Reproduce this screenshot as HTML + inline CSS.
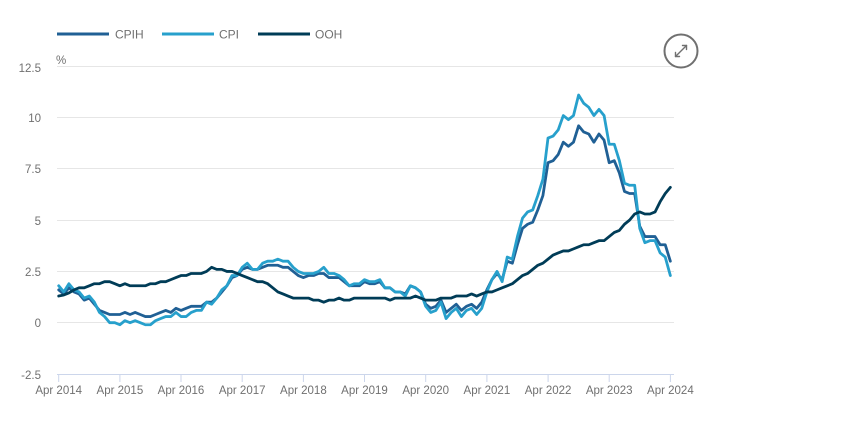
<!DOCTYPE html>
<html>
<head>
<meta charset="utf-8">
<style>
  html,body{margin:0;padding:0;background:#fff;}
  body{width:849px;height:441px;overflow:hidden;}
  svg{display:block;font-family:"Liberation Sans",sans-serif;}
  .lbl{fill:#707070;font-size:11.5px;}
</style>
</head>
<body>
<svg width="849" height="441" viewBox="0 0 849 441" xmlns="http://www.w3.org/2000/svg">
  <rect width="849" height="441" fill="#fff"/>

  <!-- legend -->
  <line x1="57" y1="34" x2="109" y2="34" stroke="#206095" stroke-width="3"/>
  <text x="115" y="38.5" class="lbl" style="font-size:12px">CPIH</text>
  <line x1="162" y1="34" x2="214" y2="34" stroke="#27a0cc" stroke-width="3"/>
  <text x="219" y="38.5" class="lbl" style="font-size:12px">CPI</text>
  <line x1="258" y1="34" x2="310" y2="34" stroke="#003c57" stroke-width="3"/>
  <text x="315" y="38.5" class="lbl" style="font-size:12px">OOH</text>

  <!-- gridlines -->
  <g stroke="#e6e6e6" stroke-width="1">
    <line x1="57" y1="66.5" x2="674" y2="66.5"/>
    <line x1="57" y1="117.5" x2="674" y2="117.5"/>
    <line x1="57" y1="168.5" x2="674" y2="168.5"/>
    <line x1="57" y1="220.5" x2="674" y2="220.5"/>
    <line x1="57" y1="271.5" x2="674" y2="271.5"/>
    <line x1="57" y1="322.5" x2="674" y2="322.5"/>
  </g>
  <line x1="57" y1="374.5" x2="674" y2="374.5" stroke="#ccd6eb" stroke-width="1"/>
  <g stroke="#ccd6eb" stroke-width="1">
    <line x1="58.7" y1="374" x2="58.7" y2="382"/>
    <line x1="119.9" y1="374" x2="119.9" y2="382"/>
    <line x1="181.0" y1="374" x2="181.0" y2="382"/>
    <line x1="242.2" y1="374" x2="242.2" y2="382"/>
    <line x1="303.4" y1="374" x2="303.4" y2="382"/>
    <line x1="364.5" y1="374" x2="364.5" y2="382"/>
    <line x1="425.7" y1="374" x2="425.7" y2="382"/>
    <line x1="486.9" y1="374" x2="486.9" y2="382"/>
    <line x1="548.1" y1="374" x2="548.1" y2="382"/>
    <line x1="609.2" y1="374" x2="609.2" y2="382"/>
    <line x1="670.4" y1="374" x2="670.4" y2="382"/>
  </g>

  <!-- y labels -->
  <text x="56" y="64" class="lbl">%</text>
  <g class="lbl" text-anchor="end">
    <text x="41" y="72">12.5</text>
    <text x="41" y="122">10</text>
    <text x="41" y="173">7.5</text>
    <text x="41" y="225">5</text>
    <text x="41" y="276">2.5</text>
    <text x="41" y="327">0</text>
    <text x="41" y="379">-2.5</text>
  </g>

  <!-- x labels -->
  <g class="lbl" text-anchor="middle">
    <text x="58.7" y="394">Apr 2014</text>
    <text x="119.9" y="394">Apr 2015</text>
    <text x="181.0" y="394">Apr 2016</text>
    <text x="242.2" y="394">Apr 2017</text>
    <text x="303.4" y="394">Apr 2018</text>
    <text x="364.5" y="394">Apr 2019</text>
    <text x="425.7" y="394">Apr 2020</text>
    <text x="486.9" y="394">Apr 2021</text>
    <text x="548.1" y="394">Apr 2022</text>
    <text x="609.2" y="394">Apr 2023</text>
    <text x="670.4" y="394">Apr 2024</text>
  </g>

  <!-- series -->
  <g transform="translate(58.7,322.7) scale(5.097,-20.51)" fill="none" stroke-linejoin="round" stroke-linecap="round">
    <!-- CPIH -->
    <polyline vector-effect="non-scaling-stroke" stroke="#206095" stroke-width="2.8" points="
0,1.6 1,1.4 2,1.7 3,1.5 4,1.4 5,1.1 6,1.2 7,0.9 8,0.6
9,0.5 10,0.4 11,0.4 12,0.4 13,0.5 14,0.4 15,0.5 16,0.4 17,0.3 18,0.3 19,0.4 20,0.5
21,0.6 22,0.5 23,0.7 24,0.6 25,0.7 26,0.8 27,0.8 28,0.8 29,1.0 30,1.0 31,1.2 32,1.5
33,1.8 34,2.2 35,2.3 36,2.6 37,2.7 38,2.6 39,2.6 40,2.7 41,2.8 42,2.8 43,2.8 44,2.7
45,2.7 46,2.5 47,2.3 48,2.2 49,2.3 50,2.3 51,2.4 52,2.4 53,2.2 54,2.2 55,2.2 56,2.0
57,1.8 58,1.8 59,1.8 60,2.0 61,1.9 62,1.9 63,2.0 64,1.7 65,1.7 66,1.5 67,1.5 68,1.4
69,1.8 70,1.7 71,1.5 72,0.9 73,0.7 74,0.8 75,1.1 76,0.5 77,0.7 78,0.9 79,0.6 80,0.8
81,0.9 82,0.7 83,1.0 84,1.6 85,2.1 86,2.4 87,2.1 88,3.0 89,2.9 90,3.8 91,4.6 92,4.8
93,4.9 94,5.5 95,6.2 96,7.8 97,7.9 98,8.2 99,8.8 100,8.6 101,8.8 102,9.6 103,9.3 104,9.2
105,8.8 106,9.2 107,8.9 108,7.8 109,7.9 110,7.3 111,6.4 112,6.3 113,6.3 114,4.7 115,4.2 116,4.2
117,4.2 118,3.8 119,3.8 120,3.0"/>
    <!-- CPI -->
    <polyline vector-effect="non-scaling-stroke" stroke="#27a0cc" stroke-width="2.8" points="
0,1.8 1,1.5 2,1.9 3,1.6 4,1.5 5,1.2 6,1.3 7,1.0 8,0.5
9,0.3 10,0.0 11,0.0 12,-0.1 13,0.1 14,0.0 15,0.1 16,0.0 17,-0.1 18,-0.1 19,0.1 20,0.2
21,0.3 22,0.3 23,0.5 24,0.3 25,0.3 26,0.5 27,0.6 28,0.6 29,1.0 30,0.9 31,1.2 32,1.6
33,1.8 34,2.3 35,2.3 36,2.7 37,2.9 38,2.6 39,2.6 40,2.9 41,3.0 42,3.0 43,3.1 44,3.0
45,3.0 46,2.7 47,2.5 48,2.4 49,2.4 50,2.4 51,2.5 52,2.7 53,2.4 54,2.4 55,2.3 56,2.1
57,1.8 58,1.9 59,1.9 60,2.1 61,2.0 62,2.0 63,2.1 64,1.7 65,1.7 66,1.5 67,1.5 68,1.3
69,1.8 70,1.7 71,1.5 72,0.8 73,0.5 74,0.6 75,1.0 76,0.2 77,0.5 78,0.7 79,0.3 80,0.6
81,0.7 82,0.4 83,0.7 84,1.5 85,2.1 86,2.5 87,2.0 88,3.2 89,3.1 90,4.2 91,5.1 92,5.4
93,5.5 94,6.2 95,7.0 96,9.0 97,9.1 98,9.4 99,10.1 100,9.9 101,10.1 102,11.1 103,10.7 104,10.5
105,10.1 106,10.4 107,10.1 108,8.7 109,8.7 110,7.9 111,6.8 112,6.7 113,6.7 114,4.6 115,3.9 116,4.0
117,4.0 118,3.4 119,3.2 120,2.3"/>
    <!-- OOH -->
    <polyline vector-effect="non-scaling-stroke" stroke="#003c57" stroke-width="2.8" points="
0,1.3 1,1.35 2,1.45 3,1.6 4,1.7 5,1.7 6,1.8 7,1.9 8,1.9
9,2.0 10,2.0 11,1.9 12,1.8 13,1.9 14,1.8 15,1.8 16,1.8 17,1.8 18,1.9 19,1.9 20,2.0
21,2.0 22,2.1 23,2.2 24,2.3 25,2.3 26,2.4 27,2.4 28,2.4 29,2.5 30,2.7 31,2.6 32,2.6
33,2.5 34,2.5 35,2.4 36,2.3 37,2.2 38,2.1 39,2.0 40,2.0 41,1.9 42,1.7 43,1.5 44,1.4
45,1.3 46,1.2 47,1.2 48,1.2 49,1.2 50,1.1 51,1.1 52,1.0 53,1.1 54,1.1 55,1.2 56,1.1
57,1.1 58,1.2 59,1.2 60,1.2 61,1.2 62,1.2 63,1.2 64,1.2 65,1.1 66,1.2 67,1.2 68,1.2
69,1.2 70,1.3 71,1.2 72,1.1 73,1.1 74,1.1 75,1.2 76,1.2 77,1.2 78,1.3 79,1.3 80,1.3
81,1.4 82,1.3 83,1.4 84,1.5 85,1.5 86,1.6 87,1.7 88,1.8 89,1.9 90,2.1 91,2.3 92,2.4
93,2.6 94,2.8 95,2.9 96,3.1 97,3.3 98,3.4 99,3.5 100,3.5 101,3.6 102,3.7 103,3.8 104,3.8
105,3.9 106,4.0 107,4.0 108,4.2 109,4.4 110,4.5 111,4.8 112,5.0 113,5.3 114,5.4 115,5.3 116,5.3
117,5.4 118,5.9 119,6.3 120,6.6"/>
  </g>

  <!-- expand icon -->
  <circle cx="681" cy="51" r="16.5" fill="#fff" stroke="#707070" stroke-width="2"/>
  <g stroke="#707070" stroke-width="1.4" fill="none" stroke-linecap="round" stroke-linejoin="round">
    <line x1="675.5" y1="56.5" x2="686.5" y2="45.5"/>
    <polyline points="682.5,45.5 686.5,45.5 686.5,49.5"/>
    <polyline points="675.5,52.5 675.5,56.5 679.5,56.5"/>
  </g>
</svg>
</body>
</html>
